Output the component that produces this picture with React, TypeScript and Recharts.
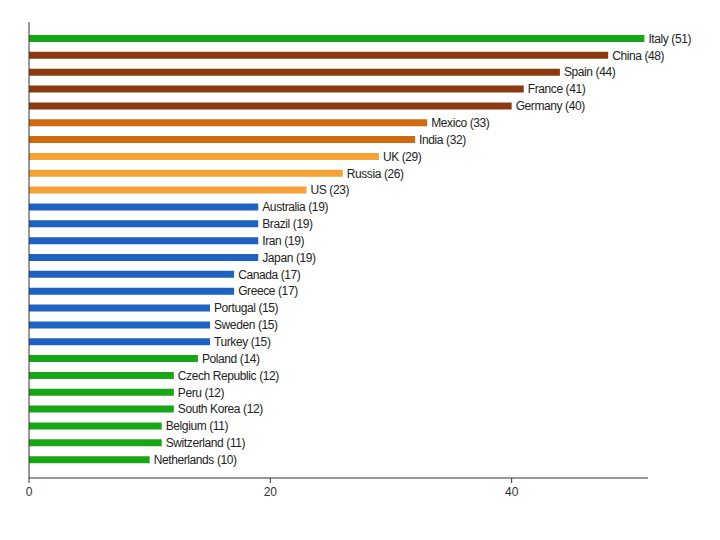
import React from 'react';
import { BarChart, Bar, XAxis, YAxis, Cell, LabelList, ReferenceLine } from 'recharts';

const countries = [
  'Italy', 'China', 'Spain', 'France', 'Germany', 'Mexico', 'India', 'UK', 'Russia', 'US',
  'Australia', 'Brazil', 'Iran', 'Japan', 'Canada', 'Greece', 'Portugal', 'Sweden', 'Turkey',
  'Poland', 'Czech Republic', 'Peru', 'South Korea', 'Belgium', 'Switzerland', 'Netherlands',
];
const counts = [51, 48, 44, 41, 40, 33, 32, 29, 26, 23, 19, 19, 19, 19, 17, 17, 15, 15, 15, 14, 12, 12, 12, 11, 11, 10];
// colour group of each bar
const groups = ['g', 'b', 'b', 'b', 'b', 'o', 'o', 'l', 'l', 'l', 'u', 'u', 'u', 'u', 'u', 'u', 'u', 'u', 'u', 'g', 'g', 'g', 'g', 'g', 'g', 'g'];
const xTicks = [0, 20, 40];

const palette: Record<string, string> = {
  g: '#16a616',
  b: '#8a3a0e',
  o: '#d06a12',
  l: '#f4a236',
  u: '#1e62c2',
};

const data = countries.map((name, i) => ({
  name,
  value: counts[i],
  label: `${name} (${counts[i]})`,
  color: palette[groups[i]],
}));

const font = 'Liberation Sans, Arial, sans-serif';

export default function App() {
  return (
    <div style={{ position: 'absolute', left: 0, top: 0, width: 720, height: 540, background: '#fff' }}>
      <BarChart
        width={720}
        height={540}
        data={data}
        layout="vertical"
        margin={{ top: 22, right: 72, bottom: 32, left: 29 }}
        barCategoryGap={0}
      >
        <XAxis
          type="number"
          domain={[0, 51.3]}
          ticks={xTicks}
          axisLine={{ stroke: '#333' }}
          tickLine={{ stroke: '#333' }}
          tickSize={5}
          tick={{ fill: '#333', fontSize: 12, fontFamily: font, dy: 2 }}
        />
        <YAxis
          type="category"
          dataKey="name"
          width={0}
          tick={false}
          tickLine={false}
          axisLine={{ stroke: '#333' }}
          padding={{ top: 8, bottom: 10 }}
        />
        <ReferenceLine x={0} stroke="#333" />
        <Bar dataKey="value" barSize={7} isAnimationActive={false}>
          {data.map((d) => (
            <Cell key={d.name} fill={d.color} />
          ))}
          <LabelList
            dataKey="label"
            position="right"
            offset={4}
            style={{ fill: '#222', fontSize: 12, fontFamily: font, letterSpacing: -0.4 }}
          />
        </Bar>
      </BarChart>
    </div>
  );
}
